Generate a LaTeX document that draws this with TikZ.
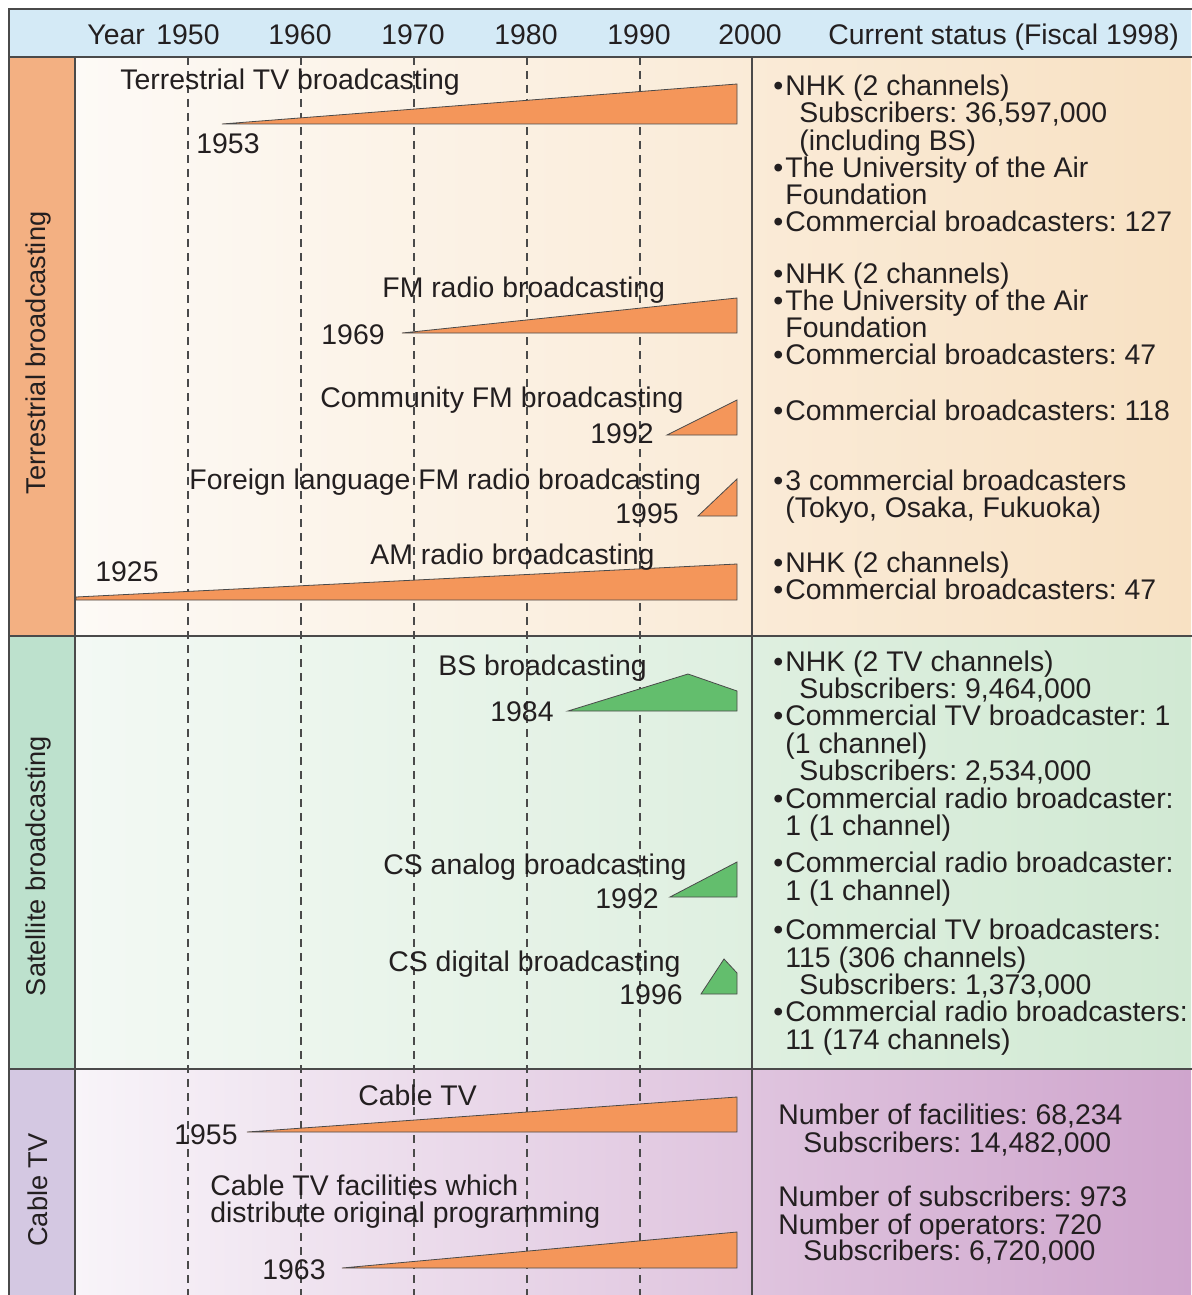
\documentclass[tikz,border=0pt]{standalone}
\usepackage{fontspec}
\setmainfont{Liberation Sans}
\frenchspacing
\definecolor{hdr}{HTML}{D4EAF6}
\definecolor{terL}{HTML}{F3B082}
\definecolor{satL}{HTML}{BDE1CD}
\definecolor{cabL}{HTML}{D4C8E2}
\definecolor{terA}{HTML}{FDFAF6}
\definecolor{terB}{HTML}{F8E1C3}
\definecolor{satA}{HTML}{F3F9F4}
\definecolor{satB}{HTML}{D1E9D3}
\definecolor{cabA}{HTML}{F8F4F9}
\definecolor{cabB}{HTML}{CFA5CD}
\definecolor{wor}{HTML}{F4965A}
\definecolor{wgr}{HTML}{63BE6D}
\definecolor{ink}{HTML}{231F20}
\definecolor{framec}{HTML}{4A4A4A}
\newcommand\Tx[4]{\node[txt,anchor=base west] (#1) at (#2,#3) {#4};}
\newcommand\Tr[4]{\node[txt,anchor=base east] (#1) at (#2,#3) {#4};}
\newcommand\Tc[4]{\node[txt,anchor=base] (#1) at (#2,#3) {#4};}
\newcommand\Bul{\makebox[6pt][l]{•}}
\begin{document}
\begin{tikzpicture}[x=0.5pt,y=-0.5pt,
  txt/.style={font=\fontsize{14.2}{13.5}\selectfont, text=ink, inner sep=0pt, yshift=-1pt},
  sidelabel/.style={font=\fontsize{13.6}{13.5}\selectfont, text=ink, inner sep=0pt, rotate=90},
  frameline/.style={draw=framec, line width=0.9pt},
  gridline/.style={draw=framec, line width=0.6pt, dash pattern=on 4pt off 3pt},
  wedgeor/.style={fill=wor, draw=framec, line width=0.4pt},
  wedgegr/.style={fill=wgr, draw=framec, line width=0.4pt}]
\useasboundingbox (0,0) rectangle (1191,1295);
% backgrounds
\fill[white] (0,0) rectangle (1191,1295);
\fill[hdr] (9,9) rectangle (1191,57);
\fill[terL] (9,57) rectangle (75,636);
\fill[satL] (9,636) rectangle (75,1069);
\fill[cabL] (9,1069) rectangle (75,1295);
\shade[left color=terA, right color=terB] (75,57) rectangle (1191,636);
\shade[left color=satA, right color=satB] (75,636) rectangle (1191,1069);
\shade[left color=cabA, right color=cabB] (75,1069) rectangle (1191,1295);
% year grid
\foreach \gx in {188,301,414,527,640}
  \draw[gridline] (\gx,57) -- (\gx,1295);
% wedges
\fill[wedgeor] (222,124) -- (737,84) -- (737,124) -- cycle;
\fill[wedgeor] (402,333) -- (737,298) -- (737,333) -- cycle;
\fill[wedgeor] (667,435) -- (737,400) -- (737,435) -- cycle;
\fill[wedgeor] (698,516) -- (737,479) -- (737,516) -- cycle;
\fill[wedgeor] (76,597) -- (737,564) -- (737,600) -- (76,600) -- cycle;
\fill[wedgegr] (568,711) -- (688,674) -- (737,691) -- (737,711) -- cycle;
\fill[wedgegr] (670,897) -- (737,862) -- (737,897) -- cycle;
\fill[wedgegr] (701,994) -- (724,959) -- (737,973) -- (737,994) -- cycle;
\fill[wedgeor] (247,1132) -- (737,1097) -- (737,1132) -- cycle;
\fill[wedgeor] (342,1268) -- (737,1232) -- (737,1268) -- cycle;
% frame
\draw[frameline] (1195,9) -- (9,9) -- (9,1299);
\draw[frameline] (9,57) -- (1195,57);
\draw[frameline] (9,636) -- (1195,636);
\draw[frameline] (9,1069) -- (1195,1069);
\draw[frameline] (75,57) -- (75,1299);
\draw[frameline] (752,57) -- (752,1299);
% header
\Tx{hyear}{87}{43}{Year}
\Tc{h1950}{188}{43}{1950}
\Tc{h1960}{300}{43}{1960}
\Tc{h1970}{413}{43}{1970}
\Tc{h1980}{526}{43}{1980}
\Tc{h1990}{639}{43}{1990}
\Tc{h2000}{750}{43}{2000}
\Tx{hstat}{828}{43}{Current status (Fiscal 1998)}
% side labels
\node[sidelabel] (lter) at (38,353) {Terrestrial broadcasting};
\node[sidelabel] (lsat) at (38,866) {Satellite broadcasting};
\node[sidelabel] (lcab) at (38,1190) {Cable TV};
% timeline labels
\Tx{ttv}{120}{88}{Terrestrial TV broadcasting}
\Tx{y1953}{196}{152}{1953}
\Tx{tfm}{382}{295}{FM radio broadcasting}
\Tr{y1969}{385}{342}{1969}
\Tx{tcfm}{320}{405}{Community FM broadcasting}
\Tr{y1992a}{654}{441}{1992}
\Tx{tffm}{189}{487}{Foreign language FM radio broadcasting}
\Tr{y1995}{679}{521}{1995}
\Tx{tam}{370}{562}{AM radio broadcasting}
\Tx{y1925}{95}{579}{1925}
\Tx{tbs}{438}{673}{BS broadcasting}
\Tx{y1984}{490}{719}{1984}
\Tx{tcsa}{383}{872}{CS analog broadcasting}
\Tr{y1992b}{659}{906}{1992}
\Tx{tcsd}{388}{969}{CS digital broadcasting}
\Tr{y1996}{683}{1002}{1996}
\Tx{tcab}{358}{1103}{Cable TV}
\Tx{y1955}{174}{1142}{1955}
\Tx{tcoa}{210}{1193}{Cable TV facilities which}
\Tx{tcob}{210}{1220}{distribute original programming}
\Tx{y1963}{262}{1277}{1963}
% status: terrestrial
\Tx{s01}{773}{94}{\Bul NHK (2 channels)}
\Tx{s02}{799}{121}{Subscribers: 36,597,000}
\Tx{s03}{799}{148}{(including BS)}
\Tx{s04}{773}{175}{\Bul The University of the Air}
\Tx{s05}{785}{202}{Foundation}
\Tx{s06}{773}{229}{\Bul Commercial broadcasters: 127}
\Tx{s07}{773}{281}{\Bul NHK (2 channels)}
\Tx{s08}{773}{308}{\Bul The University of the Air}
\Tx{s09}{785}{335}{Foundation}
\Tx{s10}{773}{362}{\Bul Commercial broadcasters: 47}
\Tx{s11}{773}{418}{\Bul Commercial broadcasters: 118}
\Tx{s12}{773}{488}{\Bul 3 commercial broadcasters}
\Tx{s13}{785}{515}{(Tokyo, Osaka, Fukuoka)}
\Tx{s14}{773}{570}{\Bul NHK (2 channels)}
\Tx{s15}{773}{597}{\Bul Commercial broadcasters: 47}
% status: satellite
\Tx{s16}{773}{669}{\Bul NHK (2 TV channels)}
\Tx{s17}{799}{696}{Subscribers: 9,464,000}
\Tx{s18}{773}{723}{\Bul Commercial TV broadcaster: 1}
\Tx{s19}{785}{751}{(1 channel)}
\Tx{s20}{799}{778}{Subscribers: 2,534,000}
\Tx{s21}{773}{806}{\Bul Commercial radio broadcaster:}
\Tx{s22}{785}{833}{1 (1 channel)}
\Tx{s23}{773}{870}{\Bul Commercial radio broadcaster:}
\Tx{s24}{785}{898}{1 (1 channel)}
\Tx{s25}{773}{937}{\Bul Commercial TV broadcasters:}
\Tx{s26}{785}{965}{115 (306 channels)}
\Tx{s27}{799}{992}{Subscribers: 1,373,000}
\Tx{s28}{773}{1019}{\Bul Commercial radio broadcasters:}
\Tx{s29}{785}{1047}{11 (174 channels)}
% status: cable
\Tx{s30}{778}{1122}{Number of facilities: 68,234}
\Tx{s31}{803}{1150}{Subscribers: 14,482,000}
\Tx{s32}{778}{1204}{Number of subscribers: 973}
\Tx{s33}{778}{1232}{Number of operators: 720}
\Tx{s34}{803}{1258}{Subscribers: 6,720,000}
\end{tikzpicture}
\end{document}
